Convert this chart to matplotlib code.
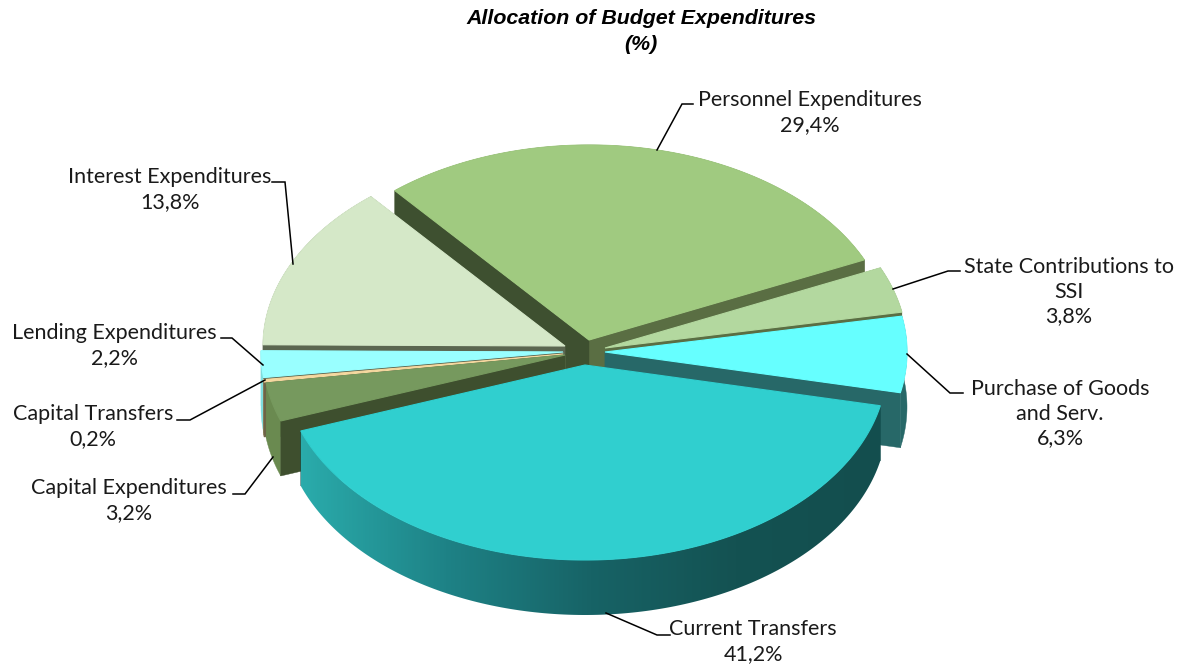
import numpy as np
import matplotlib
matplotlib.use('Agg')
import matplotlib.pyplot as plt
from matplotlib.colors import LinearSegmentedColormap
from matplotlib.patches import Polygon

# slices, clockwise from the start angle
categories = ['Personnel Expenditures', 'State Contributions to\nSSI', 'Purchase of Goods\nand Serv.',
              'Current Transfers', 'Capital Expenditures', 'Capital Transfers',
              'Lending Expenditures', 'Interest Expenditures']
values = [29.4, 3.8, 6.3, 41.2, 3.2, 0.2, 2.2, 13.8]
pct_labels = ['29,4%', '3,8%', '6,3%', '41,2%', '3,2%', '0,2%', '2,2%', '13,8%']

top_colors = ['#A0CA80', '#B3D89F', '#66FFFF', '#30CFCF', '#76995E', '#F5D9A0', '#99FFFF', '#D5E8C8']
wall_colors = ['#5A6E43', '#5A6E43', '#276868', '#145050', '#6A8A50', '#8A7A55', '#7FDDDD', '#5B6650']
side_colors = ['#3E5030', '#5A6E43', '#276868', '#145050', '#3E4F2E', '#6E6248', '#5B6650', '#5B6650']

# tip of every exploded slice, in pixels
tips = [(589, 340), (605, 348), (605, 352), (585, 365), (565, 355), (563, 354), (563, 352), (565, 346)]
label_pos = [(810, 100), (1069, 267), (1060, 389), (753, 629), (129, 488), (93, 414), (114, 333), (170, 177)]
leaders = [[(693, 104), (682, 104), (657, 150)],
           [(960, 271), (948, 271), (893, 289)],
           [(963, 393), (950, 393), (907, 354)],
           [(670, 635), (657, 635), (606, 613)],
           [(233, 494), (245, 494), (273, 457)],
           [(177, 420), (190, 420), (265, 380)],
           [(221, 338), (232, 338), (263, 365)],
           [(272, 182), (285, 182), (293, 264)]]

# back to front
draw_order = [0, 7, 1, 2, 6, 5, 4, 3]

start_angle = 130
rx, ry = 302, 195
depth = 55
font = 'Lato'
font_size = 15.5

fig = plt.figure(figsize=(11.8, 6.69), dpi=100)
ax = fig.add_axes([0, 0, 1, 1])
ax.axis('off')

sweeps = np.array(values) / sum(values) * 360
ends = start_angle - np.cumsum(sweeps)
starts = ends + sweeps

teal = LinearSegmentedColormap.from_list('teal', ['#2AABAB', '#1E8286', '#176366', '#145252', '#134E4E'])

for i in draw_order:
    cx, cy = tips[i]
    th = np.radians(np.linspace(starts[i], ends[i], 160))
    xs = cx + rx * np.cos(th)
    ys = cy - ry * np.sin(th)

    # outer wall, the big slice gets a gradient
    if categories[i] == 'Current Transfers':
        grad = np.linspace(0, 1, 400).reshape(1, -1)
        im = ax.imshow(grad, cmap=teal, aspect='auto', zorder=2,
                       extent=[xs.min(), xs.max(), ys.max() + depth, ys.min()])
        wall = Polygon(np.c_[np.r_[xs, xs[::-1]], np.r_[ys, ys[::-1] + depth]],
                       transform=ax.transData, fc='none', ec='none')
        ax.add_patch(wall)
        im.set_clip_path(wall)
    else:
        ax.fill(np.r_[xs, xs[::-1]], np.r_[ys, ys[::-1] + depth], color=wall_colors[i], lw=0.3)

    # radial walls, the one facing away first
    ax.fill([cx, xs[-1], xs[-1], cx], [cy, ys[-1], ys[-1] + depth, cy + depth], color=wall_colors[i], lw=0.3)
    ax.fill([cx, xs[0], xs[0], cx], [cy, ys[0], ys[0] + depth, cy + depth], color=side_colors[i], lw=0.3)

    # top face, with an edge of its own colour to hide the wall hairlines
    ax.fill(np.r_[cx, xs], np.r_[cy, ys], color=top_colors[i], lw=0.8, zorder=3 if i == 3 else 1)

for name, pct, (x, y), line in zip(categories, pct_labels, label_pos, leaders):
    lines = name.split('\n') + [pct]
    for n, txt in enumerate(lines):
        ax.text(x, y + n * 24.7, txt, ha='center', va='center', family=font, size=font_size, color='#1a1a1a')
    ax.plot([p[0] for p in line], [p[1] for p in line], color='black', lw=1.1, solid_joinstyle='miter', zorder=4)

ax.text(641, 19, 'Allocation of Budget Expenditures', ha='center', va='center',
        family='Liberation Sans', weight='bold', style='italic', size=15.4, color='black')
ax.text(641, 44, '(%)', ha='center', va='center',
        family='Liberation Sans', weight='bold', style='italic', size=15.4, color='black')

ax.set_xlim(0, 1180)
ax.set_ylim(669, 0)

fig.savefig('out.png', dpi=100)
